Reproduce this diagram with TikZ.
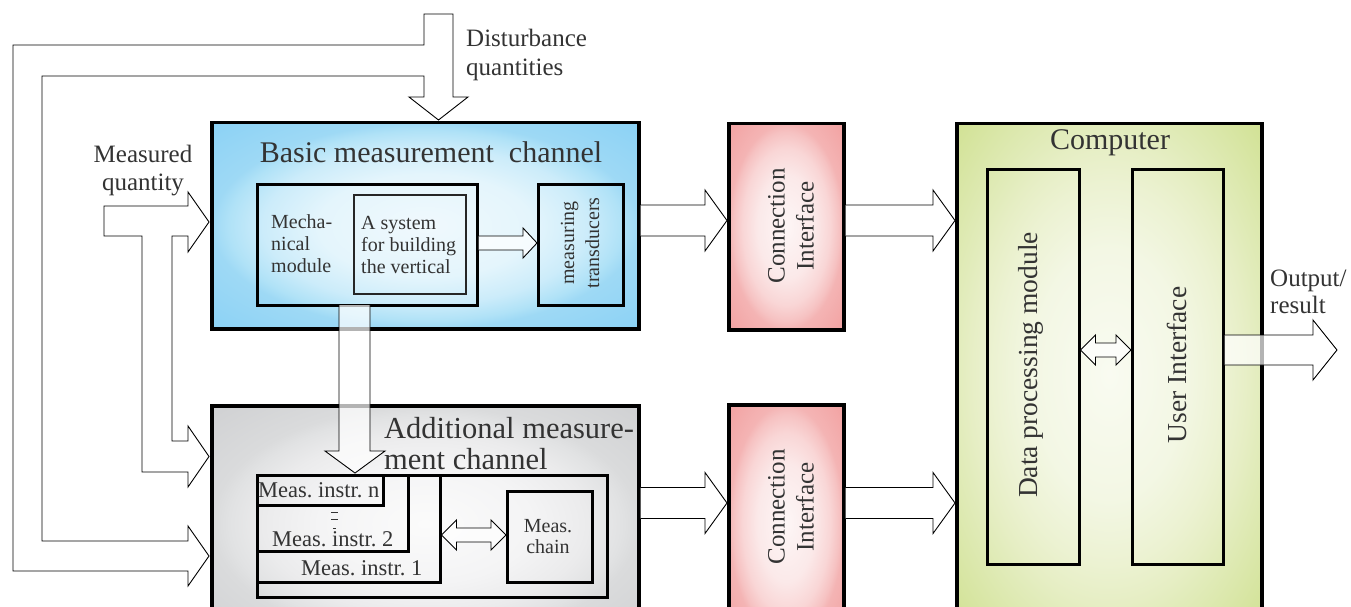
\documentclass[tikz,border=0pt]{standalone}
\usepackage{fontspec}
\setmainfont{Liberation Serif}
\usetikzlibrary{calc}
\frenchspacing
\definecolor{txt}{HTML}{333333}
\pgfdeclareradialshading{blueshade}{\pgfpointorigin}{color(0bp)=(rgb,255:red,240;green,249;blue,253); color(12.5bp)=(rgb,255:red,228;green,245;blue,252); color(19bp)=(rgb,255:red,204;green,236;blue,250); color(23bp)=(rgb,255:red,176;green,226;blue,247); color(25bp)=(rgb,255:red,158;green,217;blue,245); color(35bp)=(rgb,255:red,140;green,210;blue,245); color(50bp)=(rgb,255:red,140;green,210;blue,245)}
\pgfdeclareradialshading{grayshade}{\pgfpointorigin}{color(0bp)=(rgb,255:red,251;green,251;blue,251); color(12.5bp)=(rgb,255:red,244;green,244;blue,245); color(19bp)=(rgb,255:red,235;green,235;blue,236); color(23bp)=(rgb,255:red,225;green,226;blue,227); color(25bp)=(rgb,255:red,218;green,219;blue,220); color(35bp)=(rgb,255:red,208;green,209;blue,211); color(50bp)=(rgb,255:red,208;green,209;blue,211)}
\pgfdeclareradialshading{pinkshade}{\pgfpointorigin}{color(0bp)=(rgb,255:red,253;green,246;blue,246); color(12.5bp)=(rgb,255:red,251;green,233;blue,233); color(19bp)=(rgb,255:red,249;green,214;blue,214); color(23bp)=(rgb,255:red,246;green,194;blue,194); color(25bp)=(rgb,255:red,244;green,180;blue,180); color(35bp)=(rgb,255:red,242;green,162;blue,162); color(50bp)=(rgb,255:red,242;green,162;blue,162)}
\pgfdeclareradialshading{greenshade}{\pgfpointorigin}{color(0bp)=(rgb,255:red,249;green,251;blue,241); color(12.5bp)=(rgb,255:red,243;green,247;blue,228); color(19bp)=(rgb,255:red,236;green,242;blue,210); color(23bp)=(rgb,255:red,230;green,238;blue,196); color(25bp)=(rgb,255:red,226;green,236;blue,188); color(35bp)=(rgb,255:red,210;green,226;blue,150); color(50bp)=(rgb,255:red,210;green,226;blue,150)}
\tikzset{
 bigbox/.style={draw, line width=3.5pt, anchor=north west, inner sep=0pt},
 inbox/.style={draw, line width=2.5pt, anchor=north west, inner sep=0pt},
 thinbox/.style={draw=black!85, line width=1.5pt, anchor=north west, inner sep=0pt},
 blockarrow/.style={draw, line width=0.9pt, fill=white, line join=miter},
 glassarrow/.style={draw, line width=0.9pt, fill=white, fill opacity=0.7, line join=miter},
 lbl/.style={text=txt, inner sep=0pt},
}
% #1 style, #2 from, #3 to, #4 centre y, #5 half shaft, #6 half head, #7 head length
\newcommand\barR[7]{%
\draw[#1] let \p1=(#2), \p2=(#3) in
 (\x1,{-(#4-#5)*1pt}) -- ({\x2-#7*1pt},{-(#4-#5)*1pt}) -- ({\x2-#7*1pt},{-(#4-#6)*1pt})
 -- (\x2,{-#4*1pt}) -- ({\x2-#7*1pt},{-(#4+#6)*1pt}) -- ({\x2-#7*1pt},{-(#4+#5)*1pt})
 -- (\x1,{-(#4+#5)*1pt});}
\newcommand\barD[6]{%
\draw[glassarrow] let \p1=(#1), \p2=(#2) in
 (\x1,{-#3*1pt}) -- ({\x1+#6*1pt},{-(#3-#5)*1pt}) -- ({\x1+#6*1pt},{-(#3-#4)*1pt})
 -- ({\x2-#6*1pt},{-(#3-#4)*1pt}) -- ({\x2-#6*1pt},{-(#3-#5)*1pt}) -- (\x2,{-#3*1pt})
 -- ({\x2-#6*1pt},{-(#3+#5)*1pt}) -- ({\x2-#6*1pt},{-(#3+#4)*1pt})
 -- ({\x1+#6*1pt},{-(#3+#4)*1pt}) -- ({\x1+#6*1pt},{-(#3+#5)*1pt}) -- cycle;}
\begin{document}
\begin{tikzpicture}[x=1pt,y=-1pt]
\path[use as bounding box] (0,0) rectangle (1351,607);
\clip (0,0) rectangle (1351,607);

% feedback / input pipes
\draw[blockarrow] (424,14) -- (453,14) -- (453,97) -- (468,97) -- (438.5,120) -- (409,97)
 -- (424,97) -- (424,76) -- (42,76) -- (42,541) -- (188,541) -- (188,526) -- (209,556)
 -- (188,586) -- (188,571) -- (13,571) -- (13,45) -- (424,45) -- cycle;
\draw[blockarrow] (104,206) -- (188,206) -- (188,192) -- (209,222) -- (188,252) -- (188,236)
 -- (172,236) -- (172,441) -- (188,441) -- (188,426) -- (209,456.5) -- (188,487) -- (188,472)
 -- (142,472) -- (142,236) -- (104,236) -- cycle;

% main boxes
\node[bigbox, shading=blueshade, minimum width=427pt, minimum height=206pt] (basic) at (210,121) {};
\node[bigbox, shading=grayshade, minimum width=427pt, minimum height=236pt] (add) at (210,404) {};
\node[bigbox, shading=pinkshade, minimum width=115pt, minimum height=206pt] (conn1) at (727,122) {};
\node[bigbox, shading=pinkshade, minimum width=115pt, minimum height=236pt] (conn2) at (727,403) {};
\node[bigbox, shading=greenshade, minimum width=305pt, minimum height=500pt] (comp) at (955,122) {};

% inner boxes
\node[inbox, minimum width=220pt, minimum height=121pt] (mech) at (256,183) {};
\node[thinbox, minimum width=112pt, minimum height=99pt] (asys) at (353,194) {};
\node[inbox, minimum width=85pt, minimum height=121pt] (trans) at (537,183) {};
\node[inbox, minimum width=350pt, minimum height=122pt] (addin) at (256,474) {};
\node[inbox, minimum width=183pt, minimum height=107pt] (in1) at (256,474) {};
\node[inbox, minimum width=151pt, minimum height=76pt] (in2) at (256,474) {};
\node[inbox, minimum width=126pt, minimum height=30pt] (inn) at (256,474) {};
\node[inbox, minimum width=85pt, minimum height=91pt] (chain) at (506,490) {};
\node[inbox, minimum width=92pt, minimum height=395pt] (dp) at (986,168) {};
\node[inbox, minimum width=91pt, minimum height=395pt] (ui) at (1131,168) {};
\coordinate (outtip) at (1337,350);

% block arrows
\barR{blockarrow}{basic.east}{conn1.west}{220.5}{15.5}{30.5}{22}
\barR{blockarrow}{conn1.east}{comp.west}{220.5}{15.5}{30.5}{22}
\barR{blockarrow}{add.east}{conn2.west}{503}{15.5}{30.5}{22}
\barR{blockarrow}{conn2.east}{comp.west}{503}{15.5}{30.5}{22}
\barR{glassarrow}{mech.east}{trans.west}{243}{7}{15}{14}
\barR{glassarrow}{ui.east}{outtip}{350}{15}{30}{24}
\barD{dp.east}{ui.west}{350}{7}{15}{15}
\barD{in1.east}{chain.west}{535}{7}{15}{15}
\draw[glassarrow] (339,305) -- (339,451) -- (325,451) -- (355,473) -- (385,451) -- (370,451) -- (370,305);

% texts
\node[lbl, font=\fontsize{25}{29}\selectfont, align=left, anchor=west] (distl) at (466,55) {Disturbance\\quantities};
\node[lbl, font=\fontsize{25}{28}\selectfont, align=center] (measl) at (143,171) {Measured\\quantity};
\node[lbl, font=\fontsize{30}{31}\selectfont] (basict) at (431,152) {Basic measurement\ \ channel};
\node[lbl, font=\fontsize{20}{22}\selectfont, align=left, anchor=west] (mechl) at (271,244) {Mecha-\\nical\\module};
\node[lbl, font=\fontsize{20}{22}\selectfont, align=left, anchor=west] (asysl) at (361,245) {A system\\for building\\the vertical};
\node[lbl, font=\fontsize{20}{25}\selectfont, align=center, rotate=90] (transl) at (580,243) {measuring\\transducers};
\node[lbl, font=\fontsize{25}{29}\selectfont, align=center, rotate=90] (conn1l) at (791,226) {Connection\\Interface};
\node[lbl, font=\fontsize{25}{29}\selectfont, align=center, rotate=90] (conn2l) at (791,507) {Connection\\Interface};
\node[lbl, font=\fontsize{30}{31}\selectfont] (compl) at (1110,143) {Computer};
\node[lbl, font=\fontsize{27.5}{28}\selectfont, rotate=90] (dpl) at (1031,365) {Data processing module};
\node[lbl, font=\fontsize{27.5}{28}\selectfont, rotate=90] (uil) at (1177,365) {User Interface};
\node[lbl, font=\fontsize{25}{27}\selectfont, align=left, anchor=west] (outl) at (1270,292) {Output/\\result};
\node[lbl, font=\fontsize{30.5}{31}\selectfont, align=left, anchor=west] (addl) at (384,444) {Additional measure-\\ment channel};
\node[lbl, font=\fontsize{22.5}{24}\selectfont, anchor=west] (innl) at (258,490) {Meas. instr. n};
\node[lbl, font=\fontsize{22.5}{24}\selectfont, anchor=west] (in2l) at (272,539) {Meas. instr. 2};
\node[lbl, font=\fontsize{22.5}{24}\selectfont, anchor=west] (in1l) at (301,568) {Meas. instr. 1};
\node[lbl, font=\fontsize{20}{21}\selectfont, align=center] (chainl) at (548,537) {Meas.\\chain};
\draw[txt, line width=0.8pt] (331,512) -- (338,512) (331,519) -- (338,519) (333,528) -- (336,528);
\end{tikzpicture}
\end{document}
